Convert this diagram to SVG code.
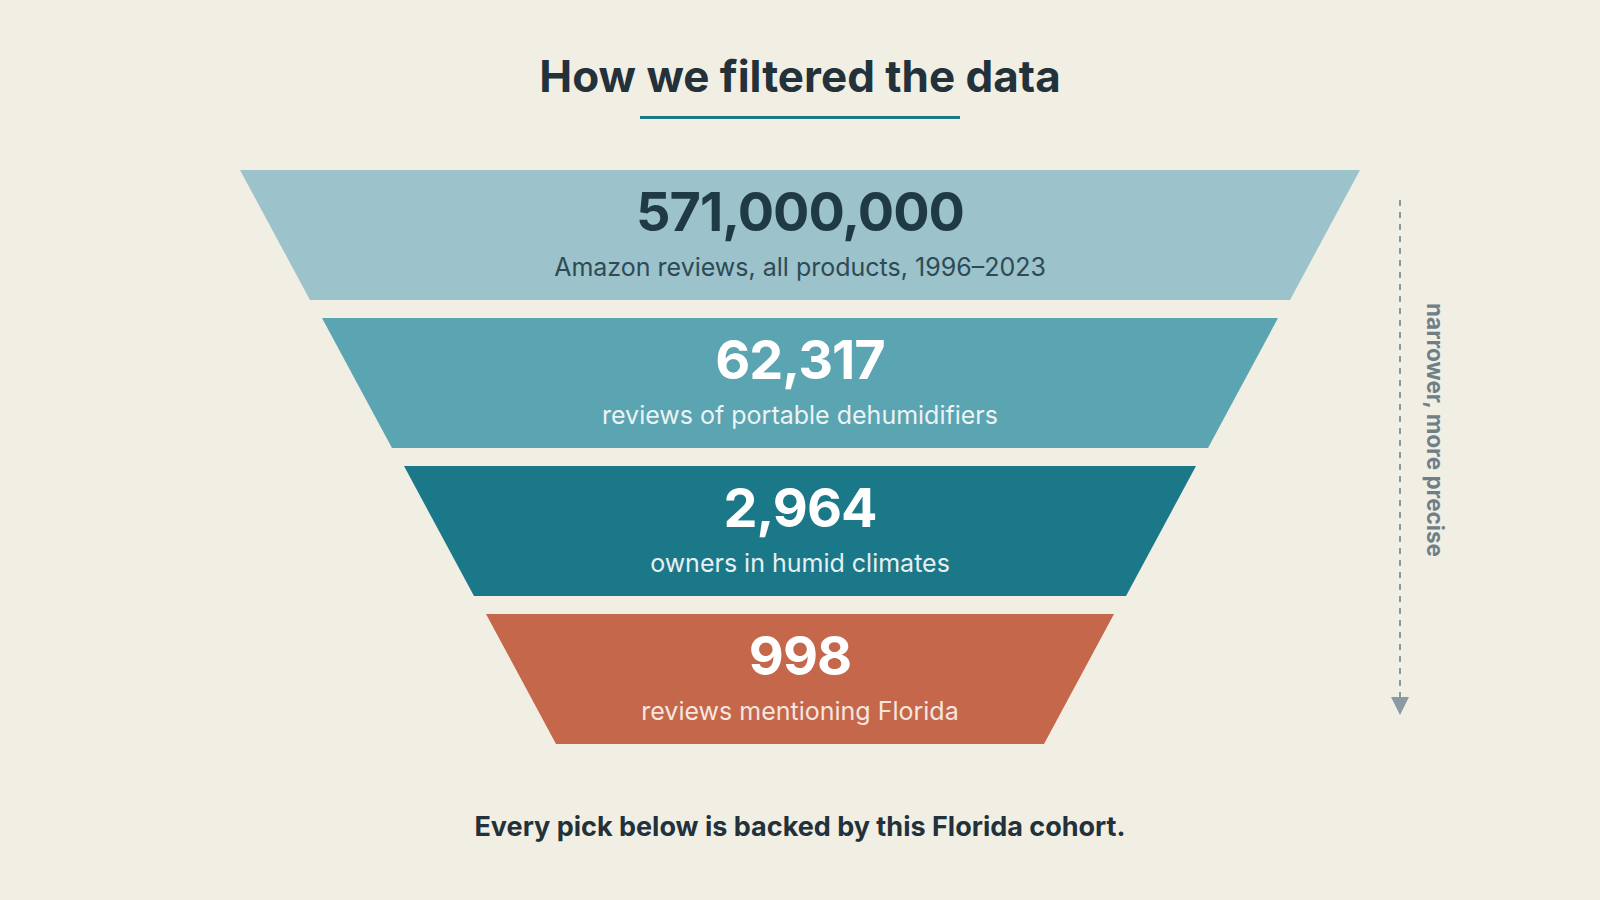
<svg xmlns="http://www.w3.org/2000/svg" width="1600" height="900" viewBox="0 0 1600 900">
<defs>
<style>
.num{font-family:Inter,"Noto Sans","Liberation Sans",sans-serif;font-weight:700;font-size:54px;letter-spacing:-1px;text-anchor:middle}
.sub{font-family:Inter,"Noto Sans","Liberation Sans",sans-serif;font-weight:400;font-size:25px;text-anchor:middle}
.title{font-family:Inter,"Noto Sans","Liberation Sans",sans-serif;font-weight:700;font-size:44px;text-anchor:middle;fill:#23313a}
.foot{font-family:Inter,"Noto Sans","Liberation Sans",sans-serif;font-weight:700;font-size:27px;text-anchor:middle;fill:#23313a}
.side{font-family:Inter,"Noto Sans","Liberation Sans",sans-serif;font-weight:700;font-size:22.5px;text-anchor:middle;fill:#6e7f88}
</style>
<marker id="ah" viewBox="0 0 10 10" refX="0" refY="5" markerWidth="18" markerHeight="18" markerUnits="userSpaceOnUse" orient="auto">
<path d="M0,0 L10,5 L0,10 Z" fill="#8a9aa3"/>
</marker>
</defs>
<rect width="1600" height="900" fill="#f1eee3"/>
<g id="title">
<text class="title" x="800" y="92">How we filtered the data</text>
<rect x="640" y="116" width="320" height="3" fill="#1a7888"/>
</g>
<g id="stage1">
<polygon points="240,170 1360,170 1290,300 310,300" fill="#9cc2cb"/>
<text class="num" x="800" y="231" fill="#1f3a44">571,000,000</text>
<text class="sub" x="800" y="276" fill="#2e4a55">Amazon reviews, all products, 1996–2023</text>
</g>
<g id="stage2">
<polygon points="322,318 1278,318 1208,448 392,448" fill="#5ba4b1"/>
<text class="num" x="800" y="379" fill="#ffffff">62,317</text>
<text class="sub" x="800" y="424" fill="#eaf3f5">reviews of portable dehumidifiers</text>
</g>
<g id="stage3">
<polygon points="404,466 1196,466 1126,596 474,596" fill="#1a7888"/>
<text class="num" x="800" y="527" fill="#ffffff">2,964</text>
<text class="sub" x="800" y="572" fill="#e6f0f2">owners in humid climates</text>
</g>
<g id="stage4">
<polygon points="486,614 1114,614 1044,744 556,744" fill="#c5674b"/>
<text class="num" x="800" y="675" fill="#ffffff">998</text>
<text class="sub" x="800" y="720" fill="#f6e6df">reviews mentioning Florida</text>
</g>
<g id="connectors">
<line x1="1400" y1="200" x2="1400" y2="697" stroke="#8a9aa3" stroke-width="2" stroke-dasharray="6,6" marker-end="url(#ah)"/>
</g>
<g id="side-label">
<text class="side" transform="translate(1427,430) rotate(90)">narrower, more precise</text>
</g>
<g id="footer">
<text class="foot" x="800" y="836">Every pick below is backed by this Florida cohort.</text>
</g>
</svg>
